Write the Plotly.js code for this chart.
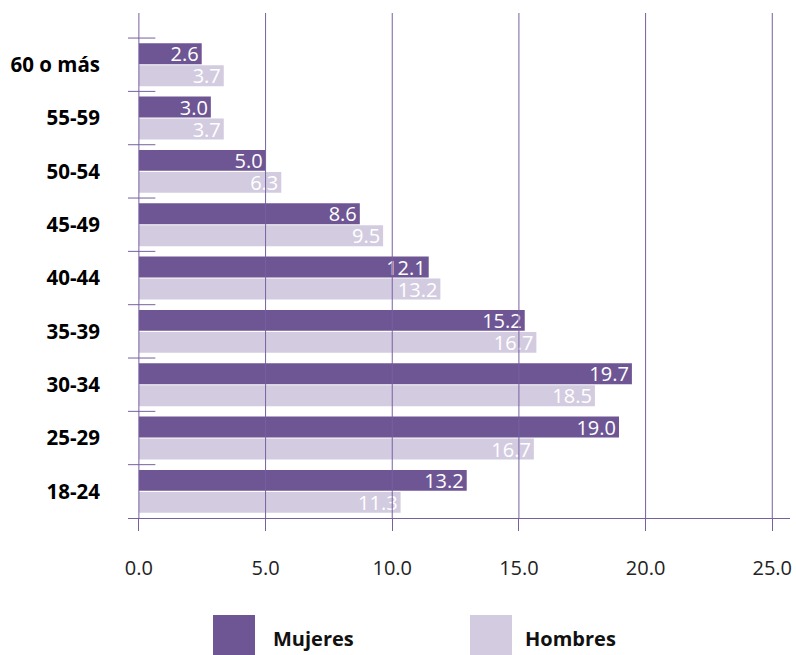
<!DOCTYPE html>
<html>
<head>
<meta charset="utf-8">
<script src="https://cdn.plot.ly/plotly-3.0.1.min.js"></script>
<style>html,body{margin:0;padding:0;background:#fff;}#chart{width:796px;height:655px;}</style>
</head>
<body>
<div id="chart"></div>
<script>
// Data (bottom to top)
const categories = ["18-24", "25-29", "30-34", "35-39", "40-44", "45-49", "50-54", "55-59", "60 o más"];
// printed values (data labels)
const mujeresLabels = [13.2, 19.0, 19.7, 15.2, 12.1, 8.6, 5.0, 3.0, 2.6];
const hombresLabels = [11.3, 16.7, 18.5, 16.7, 13.2, 9.5, 6.3, 3.7, 3.7];
// bar lengths as drawn in the picture (read against the axis)
const mujeresBars = [12.94, 18.95, 19.46, 15.23, 11.44, 8.72, 5.0, 2.84, 2.48];
const hombresBars = [10.33, 15.59, 18.0, 15.69, 11.9, 9.64, 5.62, 3.35, 3.35];
const seriesNames = ["Mujeres", "Hombres"];
const xTickVals = [0, 5, 10, 15, 20, 25];

const W = 796, H = 655;
const M = {l: 128, r: 6, t: 13, b: 137};
const pw = W - M.l - M.r, ph = H - M.t - M.b;
const px2x = p => (p - M.l) / pw;
const py2y = p => (H - M.b - p) / ph;

const cDark = "#6e5694";
const cLight = "#d3cce0";
const cGrid = "#7760a0";
const font = "Open Sans, Noto Sans, sans-serif";

const traceH = {
  type: "bar", orientation: "h", name: seriesNames[1],
  y: categories, x: hombresBars,
  text: hombresLabels.map(v => v.toFixed(1)),
  texttemplate: "%{text}", textposition: "inside", insidetextanchor: "end",
  insidetextfont: {color: "#ffffff", size: 20, family: font},
  marker: {color: cLight},
  constraintext: "none", hoverinfo: "text+name", showlegend: false
};
const traceM = Object.assign({}, traceH, {
  name: seriesNames[0], x: mujeresBars,
  text: mujeresLabels.map(v => v.toFixed(1)),
  marker: {color: cDark}
});

const shapes = [];
xTickVals.forEach(v => shapes.push({
  type: "line", xref: "x", yref: "paper", x0: v, x1: v, y0: 0, y1: 1,
  line: {color: cGrid, width: 1}, layer: "above"
}));
categories.forEach((c, i) => shapes.push({
  type: "line", xref: "x", yref: "y", x0: -0.65, x1: 0.65, y0: i + 0.5, y1: i + 0.5,
  line: {color: cGrid, width: 1}, layer: "above"
}));
// legend squares
shapes.push({type: "rect", xref: "paper", yref: "paper",
  x0: px2x(213), x1: px2x(255), y0: py2y(615), y1: py2y(656),
  fillcolor: cDark, line: {width: 0}});
shapes.push({type: "rect", xref: "paper", yref: "paper",
  x0: px2x(470), x1: px2x(512), y0: py2y(615), y1: py2y(656),
  fillcolor: cLight, line: {width: 0}});

const annotations = [
  {text: "<b>" + seriesNames[0] + "</b>", xref: "paper", yref: "paper", x: px2x(271), y: py2y(638),
   xanchor: "left", yanchor: "middle", showarrow: false, font: {family: font, size: 20, color: "#111"}},
  {text: "<b>" + seriesNames[1] + "</b>", xref: "paper", yref: "paper", x: px2x(523), y: py2y(638),
   xanchor: "left", yanchor: "middle", showarrow: false, font: {family: font, size: 20, color: "#111"}}
];

const layout = {
  width: W, height: H, margin: M,
  paper_bgcolor: "#fff", plot_bgcolor: "#fff",
  barmode: "group", bargap: 0.175, bargroupgap: 0.05,
  font: {family: font},
  xaxis: {
    range: [-0.43, 25.7], tickvals: xTickVals, tickformat: ".1f",
    showgrid: false, zeroline: false,
    showline: true, linecolor: cGrid, linewidth: 1,
    ticks: "outside", ticklen: 12, tickcolor: cGrid, tickwidth: 1,
    ticklabelstandoff: 20,
    tickfont: {family: font, size: 20, color: "#222"}
  },
  yaxis: {
    type: "category", range: [-0.5, 8.97],
    showgrid: false, zeroline: false, showline: false, ticks: "",
    ticklabelstandoff: 27,
    tickfont: {family: font, size: 20.5, color: "#000", weight: "bold"}
  },
  shapes: shapes, annotations: annotations, showlegend: false
};

Plotly.newPlot("chart", [traceH, traceM], layout, {displayModeBar: false, staticPlot: true});
</script>
</body>
</html>
